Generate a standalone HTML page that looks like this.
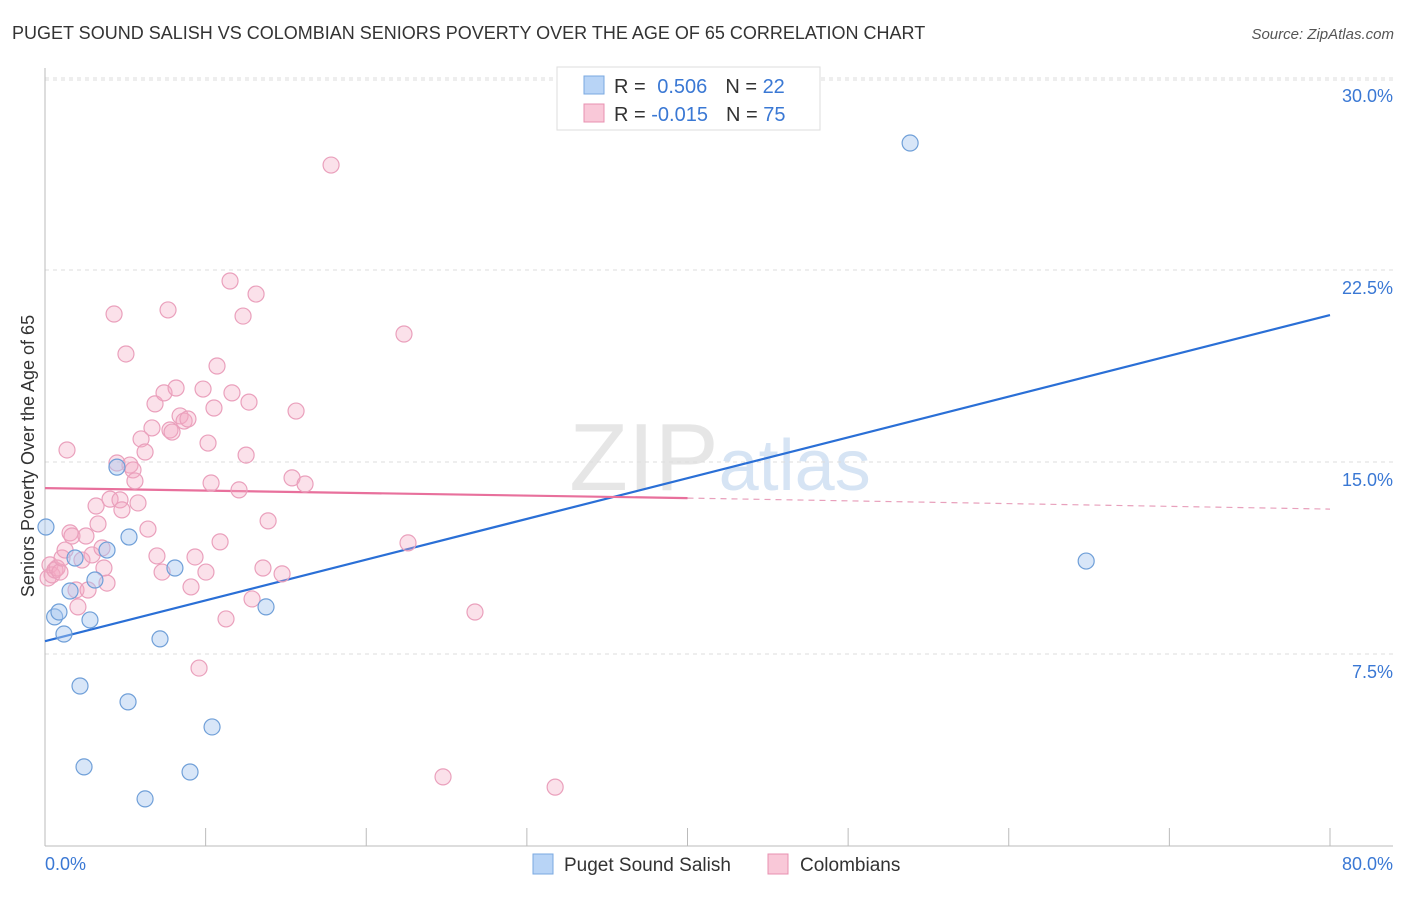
<!DOCTYPE html>
<html><head><meta charset="utf-8"><style>
body{margin:0;background:#fff;font-family:"Liberation Sans",sans-serif;}
svg text{font-family:"Liberation Sans",sans-serif;}
</style></head><body>
<svg id="c" width="1406" height="892" xmlns="http://www.w3.org/2000/svg">
<text x="12" y="39" font-size="18" fill="#333">PUGET SOUND SALISH VS COLOMBIAN SENIORS POVERTY OVER THE AGE OF 65 CORRELATION CHART</text>
<text x="1394" y="39" font-size="15" fill="#555" font-style="italic" text-anchor="end">Source: ZipAtlas.com</text>
<text x="720" y="490" font-size="96" fill="#e6e6e6" text-anchor="middle" font-family="Liberation Serif">ZIP<tspan fill="#d6e4f4" font-family="Liberation Sans" font-size="72">atlas</tspan></text>
<text transform="translate(34,456) rotate(-90)" font-size="18" fill="#333" text-anchor="middle">Seniors Poverty Over the Age of 65</text>
<g id="grid"></g><g id="axes"></g><g id="lines"></g><g id="pts"></g>
<g>
<rect x="557" y="67" width="263" height="63" fill="#fff" stroke="#ddd"/>
<rect x="584" y="76" width="20" height="18" fill="#b8d4f6" stroke="#7aa8e0"/>
<rect x="584" y="104" width="20" height="18" fill="#f9c8d8" stroke="#e890b0"/>
<text x="614" y="93" font-size="20" fill="#333">R = <tspan fill="#3a78d4" dx="6">0.506</tspan><tspan dx="18" fill="#333">N = </tspan><tspan fill="#3a78d4">22</tspan></text>
<text x="614" y="121" font-size="20" fill="#333">R = <tspan fill="#3a78d4">-0.015</tspan><tspan dx="18" fill="#333">N = </tspan><tspan fill="#3a78d4">75</tspan></text>
</g>
<g>
<rect x="533" y="854" width="20" height="20" fill="#b8d4f6" stroke="#7aa8e0"/>
<text x="564" y="871" font-size="19" fill="#333">Puget Sound Salish</text>
<rect x="768" y="854" width="20" height="20" fill="#f9c8d8" stroke="#e890b0"/>
<text x="800" y="871" font-size="19" fill="#333">Colombians</text>
</g>
</svg>
<script>
const yTicks=[7.5,15,22.5,30];
const yTickLabels=["7.5%","15.0%","22.5%","30.0%"];
const xTicks=[0,10,20,30,40,50,60,70,80];
const blueX=[0.06,0.6,0.87,1.18,1.56,1.87,2.18,2.43,2.8,3.11,3.86,4.48,5.17,5.23,6.23,7.16,8.09,9.03,10.4,13.76,53.86,64.82];
const blueY=[12.46,8.95,9.14,8.28,9.96,11.25,6.25,3.09,8.83,10.39,11.56,14.8,5.63,12.07,1.84,8.09,10.86,2.89,4.65,9.34,27.46,11.13];
const pinkX=[0.19,0.31,0.44,0.62,0.75,0.93,1.06,1.25,1.37,1.56,1.68,1.93,2.05,2.3,2.55,2.68,2.93,3.18,3.3,3.55,3.67,3.86,4.05,4.3,4.48,4.67,4.79,5.04,5.29,5.48,5.6,5.79,5.98,6.23,6.41,6.66,6.85,6.97,7.29,7.41,7.66,7.78,7.91,8.16,8.41,8.66,8.9,9.09,9.34,9.59,9.84,10.02,10.15,10.34,10.52,10.71,10.9,11.27,11.52,11.64,12.08,12.33,12.52,12.7,12.89,13.14,13.57,13.89,14.76,15.38,15.63,16.19,17.81,22.35,22.6,24.78,26.77,31.76];
const pinkY=[10.47,10.98,10.59,10.78,10.86,10.7,11.25,11.56,15.47,12.23,12.11,10.0,9.34,11.17,12.11,10.0,11.37,13.28,12.58,11.64,10.86,10.27,13.55,20.78,14.96,13.52,13.13,19.22,14.88,14.69,14.26,13.4,15.9,15.39,12.38,16.33,17.27,11.33,10.7,17.7,20.94,16.25,16.17,17.89,16.8,16.6,16.68,10.12,11.29,6.95,17.85,10.7,15.74,14.18,17.11,18.75,11.88,8.87,22.07,17.7,13.91,20.7,15.27,17.34,9.65,21.56,10.86,12.7,10.63,14.38,16.99,14.14,26.6,20.0,11.84,2.7,9.14,2.3];
const blueTrend=[0,8.0,80,20.74];
const pinkTrend=[0,13.98,40,13.59,80,13.16];
const X=v=>45+v/80*1285, Y=v=>846-v*25.6;
const NS="http://www.w3.org/2000/svg";
function mk(t,a,p){const e=document.createElementNS(NS,t);for(const k in a)e.setAttribute(k,a[k]);document.getElementById(p).appendChild(e);return e;}
yTicks.forEach((t,i)=>{
 const l=mk('line',{x1:45,x2:1393,y1:Y(t),y2:Y(t),stroke:'#ddd','stroke-dasharray':'4,4'},'grid');
 
 
 const tx=mk('text',{x:1393,y:Y(t)+24,'font-size':18,fill:'#3a78d4','text-anchor':'end'},'grid');tx.textContent=yTickLabels[i];
 
 
});
mk('line',{x1:45,x2:1393,y1:80,y2:80,stroke:'#ddd','stroke-dasharray':'4,4'},'grid');
mk('line',{x1:45,x2:45,y1:68,y2:846,stroke:'#bbb'},'axes');
mk('line',{x1:45,x2:1393,y1:846,y2:846,stroke:'#bbb'},'axes');
xTicks.forEach(t=>{const l=mk('line',{x1:X(t),x2:X(t),y1:828,y2:846,stroke:'#bbb'},'axes');
 
 });
let a=mk('text',{x:45,y:870,'font-size':18,fill:'#3a78d4'},'axes');a.textContent='0.0%';


a=mk('text',{x:1393,y:870,'font-size':18,fill:'#3a78d4','text-anchor':'end'},'axes');a.textContent='80.0%';


pinkX.forEach((v,i)=>{const c=mk('circle',{cx:X(v),cy:Y(pinkY[i]),r:8,fill:'rgba(244,170,196,0.35)',stroke:'#eaa0bc','stroke-width':1.2},'pts');
 
 });
blueX.forEach((v,i)=>{const c=mk('circle',{cx:X(v),cy:Y(blueY[i]),r:8,fill:'rgba(168,200,240,0.45)',stroke:'#6f9fd8','stroke-width':1.2},'pts');
 
 });
let l=mk('line',{x1:X(blueTrend[0]),y1:Y(blueTrend[1]),x2:X(blueTrend[2]),y2:Y(blueTrend[3]),stroke:'#2a6fd6','stroke-width':2.2},'lines');


l=mk('line',{x1:X(pinkTrend[0]),y1:Y(pinkTrend[1]),x2:X(pinkTrend[2]),y2:Y(pinkTrend[3]),stroke:'#e8709c','stroke-width':2.2},'lines');


l=mk('line',{x1:X(pinkTrend[2]),y1:Y(pinkTrend[3]),x2:X(pinkTrend[4]),y2:Y(pinkTrend[5]),stroke:'#e8a0bc','stroke-width':1.2,'stroke-dasharray':'6,5'},'lines');


</script>
</body></html>
